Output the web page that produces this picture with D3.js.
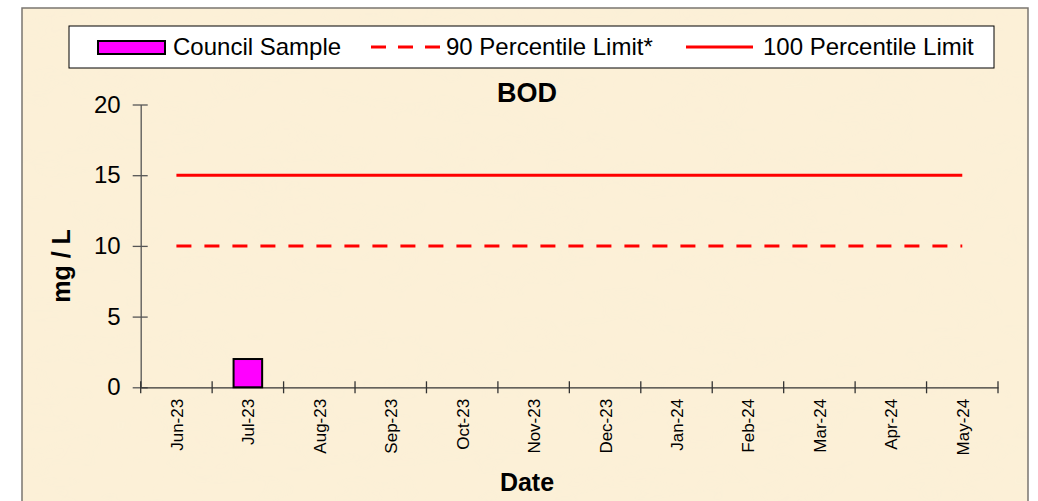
<!DOCTYPE html>
<html>
<head>
<meta charset="utf-8">
<script src="https://cdn.jsdelivr.net/npm/d3@7"></script>
<style>
  body { margin: 0; background: #fff; }
  svg { display: block; font-family: "Liberation Sans", Arial, sans-serif; }
</style>
</head>
<body>
<svg id="chart"></svg>
<script>
// data
const months = ["Jun-23", "Jul-23", "Aug-23", "Sep-23", "Oct-23", "Nov-23",
                "Dec-23", "Jan-24", "Feb-24", "Mar-24", "Apr-24", "May-24"];
const councilSample = [{ month: "Jul-23", value: 2 }];
const limit90 = 10;
const limit100 = 15;
const yTicks = [0, 5, 10, 15, 20];

const W = 1038, H = 501;
const margin = { top: 104.5, right: 40, bottom: 113.7, left: 140.7 };
const plotW = 998 - margin.left;
const plotH = H - margin.top - margin.bottom;

const svg = d3.select("#chart").attr("width", W).attr("height", H);

// parchment background
const defs = svg.append("defs");
const f = defs.append("filter").attr("id", "paper").attr("x", 0).attr("y", 0)
    .attr("width", "100%").attr("height", "100%");
f.append("feTurbulence").attr("type", "fractalNoise").attr("baseFrequency", "0.012 0.03")
    .attr("numOctaves", 3).attr("seed", 4).attr("result", "noise");
f.append("feColorMatrix").attr("type", "matrix")
    .attr("values", "0 0 0 0 0.95  0 0 0 0 0.87  0 0 0 0 0.68  0 0 0 0.35 0");
f.append("feComposite").attr("in2", "SourceGraphic").attr("operator", "in");

svg.append("rect").attr("x", 22).attr("y", 8).attr("width", 1006).attr("height", 520)
    .attr("fill", "#fcf0d7");
svg.append("rect").attr("x", 22).attr("y", 8).attr("width", 1006).attr("height", 520)
    .attr("fill", "#fcf0d7").attr("filter", "url(#paper)").attr("opacity", 0.5);
svg.append("rect").attr("x", 22).attr("y", 8).attr("width", 1006).attr("height", 520)
    .attr("fill", "none").attr("stroke", "#7a7570").attr("stroke-width", 1.5);

const g = svg.append("g").attr("transform", `translate(${margin.left},${margin.top})`);

const x = d3.scaleBand().domain(months).range([0, plotW]);
const y = d3.scaleLinear().domain([0, 20]).range([plotH, 0]);

// y axis
const yAxis = g.append("g")
    .call(d3.axisLeft(y).tickValues(yTicks).tickSize(0).tickPadding(20));
yAxis.select(".domain").attr("stroke", "#555").attr("stroke-width", 1.3);
yAxis.selectAll(".tick text").attr("font-size", 24).attr("fill", "#000")
    .attr("font-family", "Liberation Sans, Arial, sans-serif");
yAxis.selectAll(".tick").append("line")
    .attr("x1", -8).attr("x2", 7).attr("stroke", "#555").attr("stroke-width", 1.3);

// x axis
const xAxis = g.append("g").attr("transform", `translate(0,${plotH})`)
    .call(d3.axisBottom(x).tickSize(0).tickPadding(0));
xAxis.select(".domain").attr("stroke", "#333").attr("stroke-width", 1.3);
xAxis.selectAll(".tick text")
    .attr("font-size", 17).attr("fill", "#000")
    .attr("font-family", "Liberation Sans, Arial, sans-serif")
    .attr("text-anchor", "end").attr("dy", null)
    .attr("transform", "translate(6.5,11.5) rotate(-90)");
const edges = months.map(m => x(m)).concat([plotW]);
xAxis.selectAll(".edge").data(edges).join("line").attr("class", "edge")
    .attr("x1", d => d).attr("x2", d => d).attr("y1", -6).attr("y2", 6)
    .attr("stroke", "#333").attr("stroke-width", 1.3);

// limit lines
const cx = m => x(m) + x.bandwidth() / 2;
const first = months[0], last = months[months.length - 1];
g.append("line").attr("x1", cx(first)).attr("x2", cx(last))
    .attr("y1", y(limit100)).attr("y2", y(limit100))
    .attr("stroke", "#ff0000").attr("stroke-width", 3);
g.append("line").attr("x1", cx(first)).attr("x2", cx(last))
    .attr("y1", y(limit90)).attr("y2", y(limit90))
    .attr("stroke", "#ff0000").attr("stroke-width", 3)
    .attr("stroke-dasharray", "15,13");

// council sample bars
const bw = x.bandwidth() * 0.4;
g.selectAll(".bar").data(councilSample).join("rect").attr("class", "bar")
    .attr("x", d => cx(d.month) - bw / 2).attr("width", bw)
    .attr("y", d => y(d.value)).attr("height", d => plotH - y(d.value))
    .attr("fill", "#ff00ff").attr("stroke", "#000").attr("stroke-width", 2);

// titles
svg.append("text").attr("x", 527).attr("y", 101.5).attr("text-anchor", "middle")
    .attr("font-size", 27).attr("font-weight", "bold").text("BOD");
svg.append("text").attr("x", 527).attr("y", 491).attr("text-anchor", "middle")
    .attr("font-size", 25).attr("font-weight", "bold").text("Date");
svg.append("text").attr("transform", "translate(70,266) rotate(-90)")
    .attr("text-anchor", "middle").attr("font-size", 25).attr("font-weight", "bold")
    .text("mg / L");

// legend
const legend = svg.append("g");
legend.append("rect").attr("x", 69).attr("y", 26).attr("width", 925).attr("height", 42)
    .attr("fill", "#fff").attr("stroke", "#000").attr("stroke-width", 1);
legend.append("rect").attr("x", 98).attr("y", 41).attr("width", 67).attr("height", 13)
    .attr("fill", "#ff00ff").attr("stroke", "#000").attr("stroke-width", 2);
legend.append("text").attr("x", 173).attr("y", 55).attr("font-size", 24).text("Council Sample");
legend.append("line").attr("x1", 371).attr("x2", 441).attr("y1", 47).attr("y2", 47)
    .attr("stroke", "#ff0000").attr("stroke-width", 3).attr("stroke-dasharray", "15,12");
legend.append("text").attr("x", 446).attr("y", 55).attr("font-size", 24).text("90 Percentile Limit*");
legend.append("line").attr("x1", 686).attr("x2", 753).attr("y1", 47).attr("y2", 47)
    .attr("stroke", "#ff0000").attr("stroke-width", 3);
legend.append("text").attr("x", 763).attr("y", 55).attr("font-size", 24).text("100 Percentile Limit");
</script>
</body>
</html>
